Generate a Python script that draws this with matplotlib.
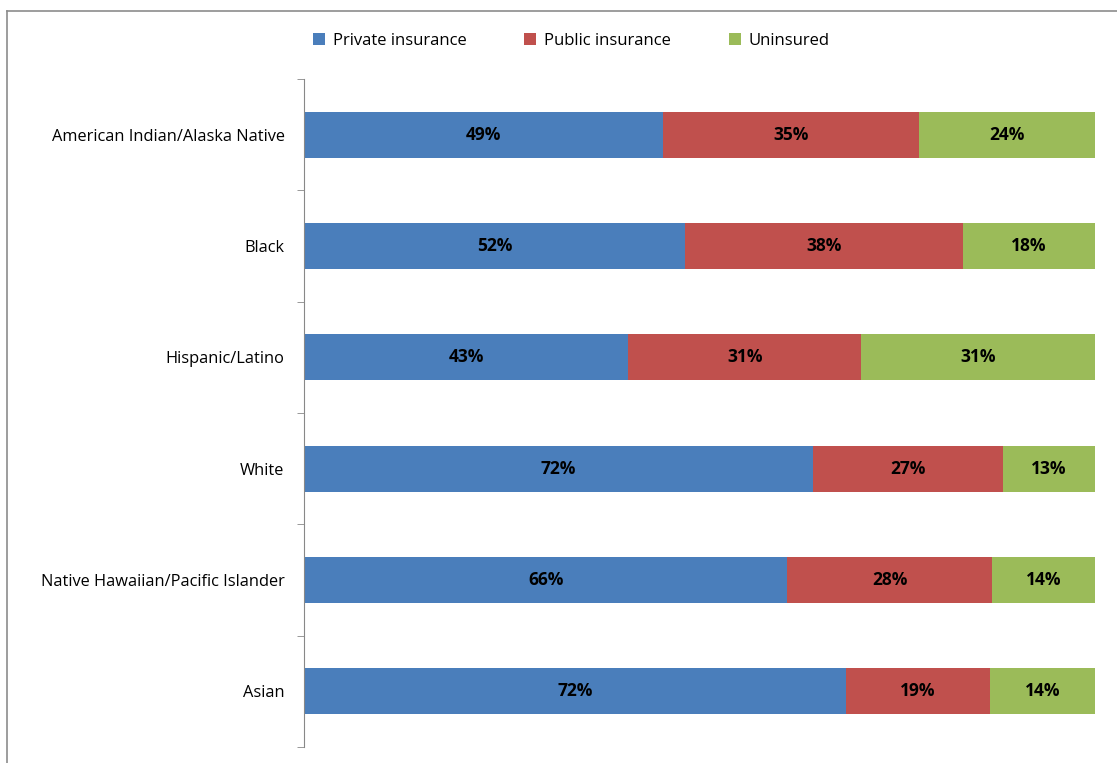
import matplotlib.pyplot as plt
import numpy as np

plt.rcParams['font.family'] = ['Open Sans', 'DejaVu Sans']

groups = ['American Indian/Alaska Native', 'Black', 'Hispanic/Latino', 'White',
          'Native Hawaiian/Pacific Islander', 'Asian']
private = [49, 52, 43, 72, 66, 72]
public = [35, 38, 31, 27, 28, 19]
uninsured = [24, 18, 31, 13, 14, 14]

series = [('Private insurance', private, '#4A7EBB'),
          ('Public insurance', public, '#C0504D'),
          ('Uninsured', uninsured, '#9BBB59')]

totals = np.array(private) + np.array(public) + np.array(uninsured)
y = np.arange(len(groups))

fig = plt.figure(figsize=(11.17, 7.63), dpi=100)
ax = fig.add_axes([304 / 1117, 1 - 747 / 763, (1095 - 304) / 1117, (747 - 79) / 763])

left = np.zeros(len(groups))
for name, vals, color in series:
    share = np.array(vals) / totals * 100
    ax.barh(y, share, left=left, height=0.415, color=color, label=name)
    for yi, l, s, v in zip(y, left, share, vals):
        ax.text(l + s / 2, yi, f'{v}%', ha='center', va='center',
                fontsize=12.5, fontweight='bold', color='black')
    left += share

ax.set_xlim(0, 100)
ax.set_ylim(len(groups) - 0.5, -0.5)
ax.set_yticks(y)
ax.set_yticklabels(groups, fontsize=11.8)
ax.set_yticks(np.arange(len(groups) + 1) - 0.5, minor=True)
ax.tick_params(axis='y', which='major', length=0, pad=14)
ax.tick_params(axis='y', which='minor', length=5, color='#888888')
ax.set_xticks([])
for side in ['top', 'right', 'bottom']:
    ax.spines[side].set_visible(False)
ax.spines['left'].set_color('#888888')

# legend entries sit in fixed slots across the top
handles, labels = ax.get_legend_handles_labels()
for h, lab, x0 in zip(handles, labels, [313, 524, 729]):
    leg = fig.legend([h], [lab], loc='center left', bbox_to_anchor=(x0 / 1117, 1 - 41 / 763),
                     frameon=False, fontsize=12, handlelength=0.7, handleheight=0.7,
                     handletextpad=0.5, borderpad=0, borderaxespad=0)

# outer frame, left and top edges only
fig.add_artist(plt.Line2D([6.5 / 1117, 6.5 / 1117], [0, 1 - 10.5 / 763],
                          transform=fig.transFigure, color='#8c8c8c', lw=1.2))
fig.add_artist(plt.Line2D([6.5 / 1117, 1], [1 - 10.5 / 763, 1 - 10.5 / 763],
                          transform=fig.transFigure, color='#8c8c8c', lw=1.2))

fig.savefig('out.png', dpi=100)
